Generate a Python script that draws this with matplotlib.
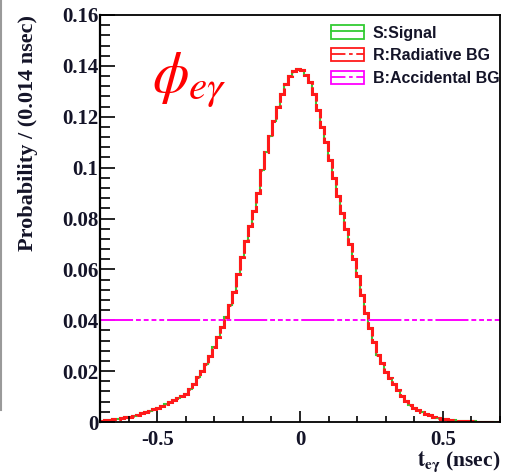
import numpy as np
import matplotlib
matplotlib.use("Agg")
import matplotlib.pyplot as plt
from matplotlib.patches import Patch
from matplotlib.lines import Line2D
from matplotlib.ticker import MultipleLocator, FuncFormatter

plt.rcParams['mathtext.fontset'] = 'stix'

# t_egamma PDF, 100 bins of 0.014 nsec between -0.7 and 0.7
t_lo, t_hi, n_bins = -0.7, 0.7, 100
pdf_signal = [
    0.0005, 0.0007, 0.0008, 0.0010, 0.0012, 0.0015, 0.0018, 0.0021, 0.0025, 0.0029,
    0.0034, 0.0039, 0.0044, 0.0050, 0.0056, 0.0063, 0.0070, 0.0078, 0.0086, 0.0094,
    0.0103, 0.0110, 0.0128, 0.0150, 0.0175, 0.0200, 0.0228, 0.0260, 0.0295, 0.0333,
    0.0372, 0.0412, 0.0458, 0.0510, 0.0580, 0.0650, 0.0710, 0.0770, 0.0830, 0.0900,
    0.0990, 0.1060, 0.1125, 0.1185, 0.1240, 0.1290, 0.1330, 0.1360, 0.1378, 0.1388,
    0.1383, 0.1365, 0.1335, 0.1290, 0.1225, 0.1160, 0.1100, 0.1030, 0.0960, 0.0890,
    0.0820, 0.0760, 0.0700, 0.0640, 0.0575, 0.0500, 0.0430, 0.0370, 0.0315, 0.0265,
    0.0230, 0.0198, 0.0172, 0.0148, 0.0125, 0.0103, 0.0083, 0.0068, 0.0056, 0.0047,
    0.0039, 0.0032, 0.0026, 0.0021, 0.0017, 0.0013, 0.0010, 0.0008, 0.0006, 0.0005,
    0.0004, 0.0003, 0.0003, 0.0002, 0.0001, 0.0001, 0.0, 0.0, 0.0, 0.0,
]
pdf_radiative = list(pdf_signal)   # same shape for RMD
accidental_level = 0.04            # flat accidental background

labels = ["S:Signal", "R:Radiative BG", "B:Accidental BG"]

edges = np.linspace(t_lo, t_hi, n_bins + 1)
acc_dashes = (17, 1.5, 2.5, 1.5, 2.5, 1.5, 2.5, 1.5, 2.5, 1.5)

fig = plt.figure(figsize=(5.16, 4.76), dpi=100)
ax = fig.add_axes([100/516, 54/476, 400/516, 407/476])

ax.stairs(pdf_signal, edges, color='#33cc33', lw=1.5, baseline=None)
ax.stairs(pdf_radiative, edges, color='#ff1a1a', lw=2.2, baseline=None,
          linestyle=(0, (6, 0.8)))
ax.plot([t_lo, t_hi], [accidental_level, accidental_level], color='#ff00ff',
        lw=1.4, dashes=acc_dashes)

ax.set_xlim(t_lo, t_hi)
ax.set_ylim(0, 0.16)

ax.xaxis.set_major_locator(MultipleLocator(0.5))
ax.xaxis.set_minor_locator(MultipleLocator(0.1))
ax.yaxis.set_major_locator(MultipleLocator(0.02))
ax.yaxis.set_minor_locator(MultipleLocator(0.004))
fmt = FuncFormatter(lambda v, p: ('%g' % round(v, 4)))
ax.xaxis.set_major_formatter(fmt)
ax.yaxis.set_major_formatter(fmt)

tick_font = dict(family='Liberation Serif', weight='bold', size=15)
ax.tick_params(axis='both', which='both', direction='in', top=False, right=False,
               width=1.2, colors='black', labelcolor='#141428')
ax.tick_params(axis='y', which='major', length=10.5, pad=1)
ax.tick_params(axis='y', which='minor', length=7)
ax.tick_params(axis='x', which='major', length=8, pad=6)
ax.tick_params(axis='x', which='minor', length=4)
for lab in ax.get_xticklabels() + ax.get_yticklabels():
    lab.set_fontproperties(tick_font)
for sp in ax.spines.values():
    sp.set_linewidth(1.3)
ax.spines['left'].set_linewidth(1.6)

ax.set_ylabel('Probability / (0.014 nsec)', loc='top', family='Liberation Serif',
              weight='bold', size=16, color='#141428')
ax.yaxis.set_label_coords(-0.155, 1.0)
ax.set_xlabel(r'$\mathbf{t_{e\gamma}}$ (nsec)', loc='right', family='Liberation Serif',
              weight='bold', size=15.5, color='#141428', labelpad=-1)

ax.text(0.13, 0.84, r'$\phi_{e\gamma}$', transform=ax.transAxes, color='red',
        fontsize=42, ha='left', va='center')

handles = [
    (Patch(facecolor='none', edgecolor='#33cc33', lw=1.3),
     Line2D([], [], color='#33cc33', lw=1.3)),
    (Patch(facecolor='none', edgecolor='#ff1a1a', lw=1.3),
     Line2D([], [], color='#ff1a1a', lw=1.3, dashes=(8, 2, 2, 2))),
    (Patch(facecolor='none', edgecolor='#ff00ff', lw=1.3),
     Line2D([], [], color='#ff00ff', lw=1.3, dashes=(8, 2, 2, 2))),
]
leg = ax.legend(handles, labels, loc='upper right', bbox_to_anchor=(1.025, 1.0),
                frameon=False, handlelength=2.1, handleheight=0.9,
                handletextpad=0.55, labelspacing=0.48, borderpad=0.15,
                prop=dict(family='Liberation Sans', weight='bold', size=11.5))
for t in leg.get_texts():
    t.set_color('#141428')

# slide edge on the left
fig.add_artist(Line2D([0.002, 0.002], [(476 - 410) / 476, 1.0],
                      transform=fig.transFigure, color='#9a9a9a', lw=1.5))

fig.savefig('out.png', dpi=100)
